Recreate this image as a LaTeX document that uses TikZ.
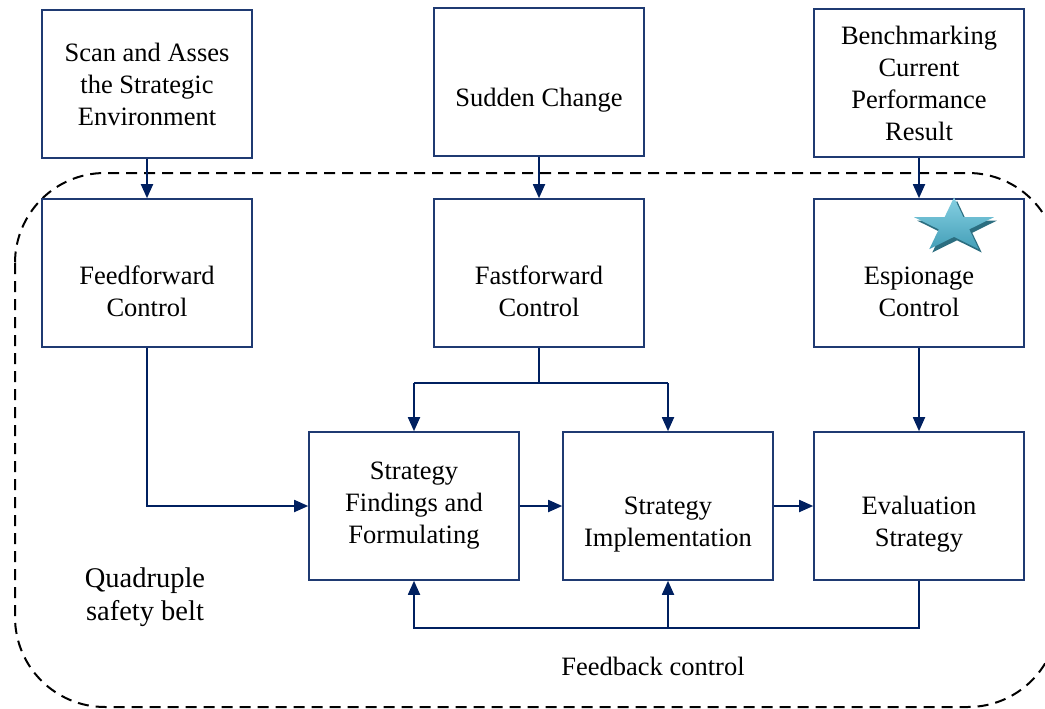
\documentclass[tikz,border=0pt]{standalone}
\usepackage{fontspec}
\setmainfont{Liberation Serif}
\usetikzlibrary{arrows.meta}
\definecolor{navy}{HTML}{002060}
\definecolor{boxline}{HTML}{1F3A72}
\definecolor{starshadow}{HTML}{2C6E80}
\definecolor{startop}{HTML}{86D0E2}
\definecolor{starbottom}{HTML}{449FB8}
\begin{document}
\begin{tikzpicture}[x=1pt,y=-1pt,
  box/.style={draw=boxline, line width=1.6pt, fill=white, minimum width=210pt,
    minimum height=148pt, align=center, inner sep=0pt,
    font=\fontsize{26.5}{32}\selectfont},
  link/.style={draw=navy, line width=1.8pt},
  tip/.style={link, -{Triangle[length=14pt,width=12pt]}},
  plain/.style={align=center, font=\fontsize{26.5}{32}\selectfont}]
\useasboundingbox (0,0) rectangle (1045,709);

% safety belt boundary
\draw[black, line width=2pt, dash pattern=on 11pt off 7pt, rounded corners=90pt]
  (15,173) rectangle (1058,707);

% top row: inputs
\node[box] (scan)  at (147,84)  {Scan and Asses\\the Strategic\\Environment};
\node[box] (sudden) at (539,82) {\strut\\Sudden Change};
\node[box] (bench) at (919,83)  {Benchmarking\\Current\\Performance\\Result};

% middle row: controls
\node[box] (feedf) at (147,273) {\strut\\Feedforward\\Control};
\node[box] (fastf) at (539,273) {\strut\\Fastforward\\Control};
\node[box] (espi)  at (919,273) {\strut\\Espionage\\Control};

% bottom row: strategy process
\node[box] (find) at (414,506) {Strategy\\Findings and\\Formulating};
\node[box] (impl) at (668,506) {\strut\\Strategy\\Implementation};
\node[box] (eval) at (919,506) {\strut\\Evaluation\\Strategy};

% labels
\node[plain, font=\fontsize{28.5}{33}\selectfont] (belt) at (145,597) {Quadruple\\safety belt};
\node[plain] (fbtext) at (653,666) {Feedback control};

% inputs into controls
\draw[tip] (scan.south) -- (feedf.north);
\draw[tip] (sudden.south) -- (fastf.north);
\draw[tip] (bench.south) -- (espi.north);

% feedforward path
\draw[tip] (feedf.south) |- (find.west);

% fastforward split
\coordinate (split) at (539,383);
\draw[link] (fastf.south) -- (split);
\draw[link] (find.north |- split) -- (impl.north |- split);
\draw[tip] (find.north |- split) -- (find.north);
\draw[tip] (impl.north |- split) -- (impl.north);

% espionage into evaluation
\draw[tip] (espi.south) -- (eval.north);

% process chain
\draw[tip] (find.east) -- (impl.west);
\draw[tip] (impl.east) -- (eval.west);

% feedback loop
\coordinate (fb) at (919,628);
\draw[tip] (eval.south) -- (fb) -| (find.south);
\draw[tip] (impl.south |- fb) -- (impl.south);

% star marker
\begin{scope}[shift={(954,226)}, yscale=0.68]
  \fill[starshadow, shift={(3,5)}]
    (-90:42) -- (-54:16) -- (-18:42) -- (18:16) -- (54:42) -- (90:16)
    -- (126:42) -- (162:16) -- (198:42) -- (234:16) -- cycle;
  \shade[top color=startop, bottom color=starbottom]
    (-90:42) -- (-54:16) -- (-18:42) -- (18:16) -- (54:42) -- (90:16)
    -- (126:42) -- (162:16) -- (198:42) -- (234:16) -- cycle;
\end{scope}
\end{tikzpicture}
\end{document}
